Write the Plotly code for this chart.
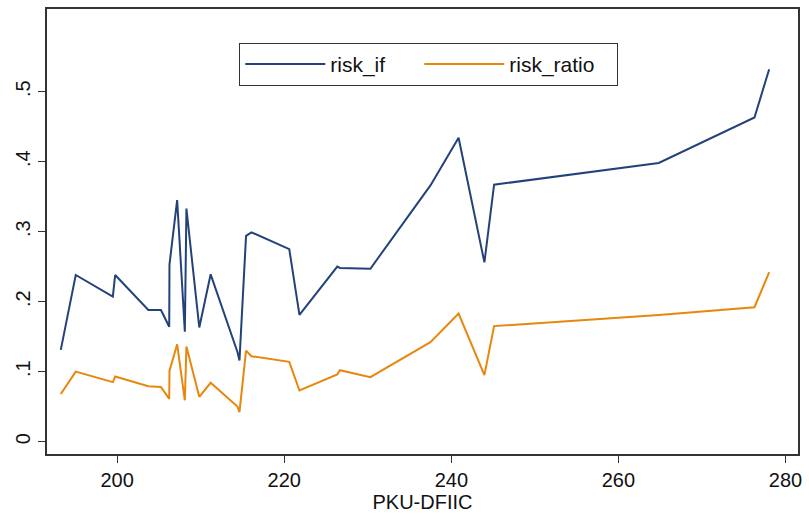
import plotly.graph_objects as go

pku_dfiic = [193.25, 195.04, 199.48, 199.76, 203.73, 205.24, 206.23, 206.26, 207.18,
             208.10, 208.29, 209.83, 211.19, 214.40, 214.64, 215.43, 216.07, 220.60,
             221.82, 226.35, 226.67, 230.31, 237.50, 240.87, 243.96, 245.12, 264.83,
             276.29, 278.05]
risk_if = [0.131, 0.238, 0.207, 0.238, 0.188, 0.188, 0.164, 0.253, 0.345,
           0.157, 0.333, 0.163, 0.239, 0.128, 0.116, 0.294, 0.299, 0.275,
           0.181, 0.250, 0.248, 0.247, 0.366, 0.434, 0.256, 0.367, 0.398,
           0.463, 0.532]
risk_ratio = [0.068, 0.100, 0.085, 0.093, 0.079, 0.078, 0.061, 0.101, 0.139,
              0.059, 0.136, 0.064, 0.084, 0.050, 0.042, 0.130, 0.122, 0.114,
              0.073, 0.096, 0.102, 0.092, 0.142, 0.183, 0.095, 0.165, 0.181,
              0.192, 0.242]

y_tickvals = [0, 0.1, 0.2, 0.3, 0.4, 0.5]
y_ticktext = ["0", ".1", ".2", ".3", ".4", ".5"]
x_tickvals = [200, 220, 240, 260, 280]

FONT = "Liberation Sans, Arial, sans-serif"
NB = "\u00a0"

fig = go.Figure()
fig.add_trace(go.Scatter(x=pku_dfiic, y=risk_if, mode="lines", name="risk_if" + NB * 5,
                         line=dict(color="#23427a", width=2)))
fig.add_trace(go.Scatter(x=pku_dfiic, y=risk_ratio, mode="lines", name="risk_ratio" + NB * 3,
                         line=dict(color="#e8870e", width=2)))

fig.update_layout(
    width=809, height=514,
    margin=dict(l=47, r=7, t=7, b=58),
    paper_bgcolor="white", plot_bgcolor="white",
    font=dict(family=FONT, size=20, color="#111"),
    showlegend=True,
    legend=dict(orientation="h", x=0.256, y=0.924, xanchor="left", yanchor="top",
                bordercolor="#333", borderwidth=1, bgcolor="white",
                itemwidth=80,
                font=dict(family=FONT, size=21, color="#111")),
)
fig.update_xaxes(range=[191.6, 281.5], tickvals=x_tickvals, ticks="outside", ticklen=7,
                 tickcolor="#333", showline=True, linecolor="#333", linewidth=1.5,
                 mirror=True, showgrid=False, zeroline=False,
                 title=dict(text="PKU-DFIIC", standoff=2, font=dict(size=20)),
                 tickfont=dict(size=20))
fig.update_yaxes(range=[-0.0177, 0.618], tickvals=y_tickvals, ticktext=y_ticktext,
                 ticks="outside", ticklen=7, tickcolor="#333", tickangle=-90,
                 showline=True, linecolor="#333", linewidth=1.5, mirror=True,
                 showgrid=False, zeroline=False, tickfont=dict(size=20))

fig.write_html("out.html", post_script="document.body.style.margin='0';",
               config={"displayModeBar": False})
